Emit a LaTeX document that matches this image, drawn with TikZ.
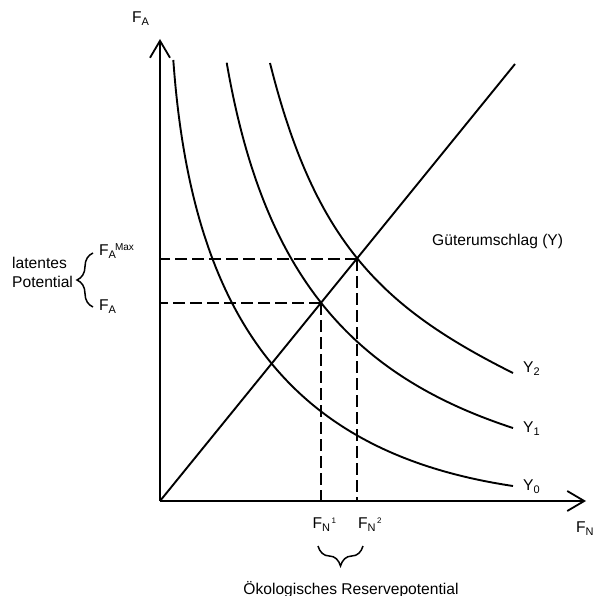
\documentclass[tikz,border=0pt]{standalone}
\usepackage{fontspec}
\setmainfont{Liberation Sans}
\usetikzlibrary{arrows.meta,decorations.pathreplacing}
\newcommand{\lowtx}[1]{\raisebox{-3pt}{\fontsize{11}{12}\selectfont #1}}
\newcommand{\hightx}[1]{\raisebox{5pt}{\fontsize{8}{9}\selectfont #1}}
\newcommand{\maxtx}[1]{\raisebox{4.5pt}{\fontsize{10}{11}\selectfont #1}}
\begin{document}
\begin{tikzpicture}[x=1pt,y=-1pt,
  lbl/.style={inner sep=0pt, anchor=base west, font=\fontsize{15.6}{18}\selectfont},
  curve/.style={line width=1.9pt, line join=round},
  axis/.style={line width=2pt, -{Straight Barb[length=17pt,width=20pt,line width=1.8pt]}},
  guide/.style={line width=1.8pt, dash pattern=on 12pt off 5pt},
  bracestyle/.style={line width=1.5pt, decorate}]
\useasboundingbox (0,0) rectangle (594,596);
\fill[white] (0,0) rectangle (594,596);
% key points
\coordinate (O) at (160,501);
\coordinate (ytop) at (160,39);
\coordinate (xend) at (586,501);
\coordinate (dend) at (515,64);
\coordinate (P1) at (321,303.3);
\coordinate (P2) at (357,259);
% dashed guides
\draw[guide] (P2) -- (P2 -| O);
\draw[guide] (P1) -- (P1 -| O);
\draw[guide] (P1) -- (P1 |- O);
\draw[guide] (P2) -- (P2 |- O);
% axes
\draw[axis] (O) -- (ytop);
\draw[axis] (O) -- (xend);
% diagonal
\draw[curve] (O) -- (dend);
% curves
\coordinate (y0s) at (173.3,60);
\coordinate (y0e) at (513,486);
\coordinate (y1s) at (226.7,62.7);
\coordinate (y1e) at (513,428);
\coordinate (y2s) at (270,63);
\coordinate (y2e) at (513,373);
\draw[curve] (y0s) .. controls (192.1,324.2) and (295.4,453.4) .. (y0e);
\draw[curve] (y1s) .. controls (262.4,269.5) and (346.8,373.8) .. (y1e);
\draw[curve] (y2s) .. controls (315.2,243.4) and (382.5,307.7) .. (y2e);
% labels
\node[lbl] (lfa) at (132,23) {F\lowtx{A}};
\node[lbl] (lfn) at (576,532) {F\lowtx{N}};
\node[lbl] (lmax) at (99,255) {F\lowtx{A}\kern-1pt\maxtx{Max}};
\node[lbl] (lfa2) at (99,310) {F\lowtx{A}};
\node[lbl] (lfn1) at (312.5,528) {F\lowtx{N}\kern1.5pt\hightx{1}};
\node[lbl] (lfn2) at (358,528) {F\lowtx{N}\kern1.5pt\hightx{2}};
\node[lbl] (ly2) at (523,372) {Y\lowtx{2}};
\node[lbl] (ly1) at (523,432) {Y\lowtx{1}};
\node[lbl] (ly0) at (523,490) {Y\lowtx{0}};
\node[lbl] (lgu) at (432,245) {Güterumschlag (Y)};
\node[lbl] (llat) at (12,268) {latentes};
\node[lbl] (lpot) at (12,287) {Potential};
\node[lbl, anchor=base] (lok) at (351,594) {Ökologisches Reservepotential};
% braces
\coordinate (b1a) at (93,307);
\coordinate (b1b) at (93,253);
\draw[bracestyle, decoration={brace,amplitude=16pt}] (b1a) -- (b1b);
\coordinate (b2a) at (363,546);
\coordinate (b2b) at (318,546);
\draw[bracestyle, decoration={brace,amplitude=20pt}] (b2a) -- (b2b);
\end{tikzpicture}
\end{document}
